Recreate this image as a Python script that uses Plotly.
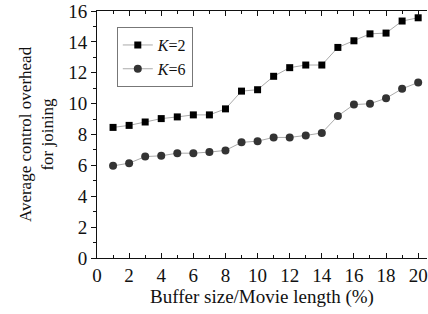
import plotly.graph_objects as go

x_vals = list(range(1, 21))
k2_vals = [8.46, 8.59, 8.81, 9.03, 9.14, 9.27, 9.27, 9.66, 10.81, 10.9,
           11.77, 12.33, 12.5, 12.5, 13.64, 14.07, 14.52, 14.57, 15.35, 15.56]
k6_vals = [5.97, 6.14, 6.57, 6.62, 6.79, 6.79, 6.86, 6.97, 7.49, 7.57,
           7.81, 7.81, 7.94, 8.1, 9.2, 9.94, 9.99, 10.35, 10.96, 11.37]
series_names = ["<i>K</i>=2", "<i>K</i>=6"]
x_ticks = list(range(0, 21, 2))
y_ticks = list(range(0, 17, 2))

FONT = "Liberation Serif, Times New Roman, serif"

fig = go.Figure()
fig.add_trace(go.Scatter(
    x=x_vals, y=k2_vals, name=series_names[0], mode="lines+markers",
    line=dict(color="#aaaaaa", width=1),
    marker=dict(symbol="square", size=7, color="#000000"),
))
fig.add_trace(go.Scatter(
    x=x_vals, y=k6_vals, name=series_names[1], mode="lines+markers",
    line=dict(color="#aaaaaa", width=1),
    marker=dict(symbol="circle", size=8, color="#333333"),
))

fig.update_layout(
    width=428, height=314,
    margin=dict(l=97, r=1, t=11, b=56, autoexpand=False),
    paper_bgcolor="white", plot_bgcolor="white",
    font=dict(family=FONT, size=19, color="#111111"),
    showlegend=True,
    legend=dict(
        x=0.06, y=0.935, xanchor="left", yanchor="top",
        bordercolor="#777777", borderwidth=1, bgcolor="white",
        font=dict(family=FONT, size=16, color="#111111"),
        tracegroupgap=0, itemwidth=30,
    ),
    xaxis=dict(
        range=[0, 20.55], tickvals=x_ticks, ticks="inside", ticklen=5,
        tickcolor="#111111", showline=True, linecolor="#111111", linewidth=1,
        mirror="ticks", showgrid=False, zeroline=False, automargin=False,
        minor=dict(dtick=1, ticks="inside", ticklen=3, tickcolor="#111111", showgrid=False),
        title=dict(text="Buffer size/Movie length (%)", standoff=1,
                   font=dict(family=FONT, size=19)),
        tickfont=dict(family=FONT, size=19),
    ),
    yaxis=dict(
        range=[0, 16], tickvals=y_ticks, ticks="outside", ticklen=5,
        tickcolor="#111111", showline=True, linecolor="#111111", linewidth=1,
        showgrid=False, zeroline=False, automargin=False,
        minor=dict(dtick=1, ticks="outside", ticklen=3, tickcolor="#111111", showgrid=False),
        title=dict(text="Average control overhead<br>for joining", standoff=10,
                   font=dict(family=FONT, size=17)),
        tickfont=dict(family=FONT, size=19),
    ),
)

fig.write_html("out.html", config={"displayModeBar": False},
               post_script="document.body.style.margin='0';")
